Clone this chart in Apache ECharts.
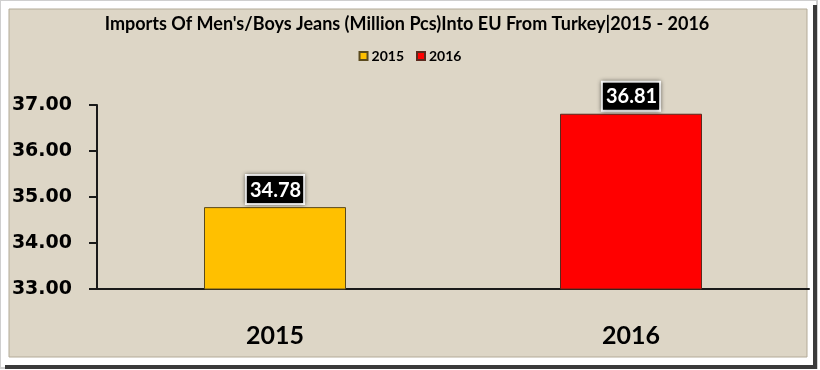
<!DOCTYPE html>
<html>
<head>
<meta charset="utf-8">
<script src="https://cdn.jsdelivr.net/npm/echarts@6/dist/echarts.min.js"></script>
<style>
html,body{margin:0;padding:0;background:#ffffff;}
#chart{width:820px;height:370px;}
</style>
</head>
<body>
<div id="chart"></div>
<script>
var categories = ['2015', '2016'];
var seriesNames = ['2015', '2016'];
var values2015 = [34.78, '-'];
var values2016 = ['-', 36.81];
var yTicks = { min: 33, max: 37, interval: 1 };

var chart = echarts.init(document.getElementById('chart'), null, { renderer: 'canvas' });
var calibri = 'Lato, "Open Sans", sans-serif';

var labelStyle = {
  show: true,
  position: 'top',
  distance: 4,
  formatter: function (p) { return p.value.toFixed(2); },
  color: '#ffffff',
  fontFamily: calibri,
  fontWeight: 'bold',
  fontSize: 20,
  lineHeight: 20,
  backgroundColor: '#000000',
  borderColor: '#ffffff',
  borderWidth: 2,
  padding: [4, 2, 3, 3],
  shadowBlur: 4,
  shadowColor: 'rgba(0,0,0,0.45)'
};

var option = {
  backgroundColor: '#ffffff',
  animation: false,
  graphic: [
    { type: 'rect', z: -20, shape: { x: 0, y: 0, width: 817, height: 368 }, style: { fill: '#ffffff', stroke: '#cfcfcf', lineWidth: 2 } },
    { type: 'rect', z: -19, shape: { x: 813, y: 5, width: 4, height: 364 }, style: { fill: '#3a3a3a' } },
    { type: 'rect', z: -19, shape: { x: 5, y: 365, width: 812, height: 4 }, style: { fill: '#3a3a3a' } },
    { type: 'rect', z: -18, shape: { x: 9, y: 9, width: 798, height: 348 }, style: { fill: '#ddd6c6', stroke: '#b3ab98', lineWidth: 1 } }
  ],
  title: {
    text: "Imports Of Men's/Boys Jeans (Million Pcs)Into EU From Turkey|2015 - 2016",
    left: 407,
    textAlign: 'center',
    top: 15,
    padding: 0,
    textStyle: { fontFamily: calibri, fontWeight: 'bold', fontSize: 18, color: '#000000' }
  },
  legend: {
    data: seriesNames,
    top: 49,
    left: 'center',
    padding: 0,
    itemWidth: 8,
    itemHeight: 8,
    itemGap: 12,
    icon: 'rect',
    textStyle: { fontFamily: calibri, fontWeight: 'bold', fontSize: 14, color: '#000000', padding: [0, 0, 0, -1] }
  },
  grid: { left: 97, right: 11, top: 105, bottom: 81, containLabel: false },
  xAxis: {
    type: 'category',
    data: categories,
    axisLine: { lineStyle: { color: '#1a1a1a', width: 2 } },
    axisTick: { show: false },
    axisLabel: { margin: 34, fontFamily: calibri, fontWeight: 'bold', fontSize: 25, color: '#000000' }
  },
  yAxis: {
    type: 'value',
    min: yTicks.min,
    max: yTicks.max,
    interval: yTicks.interval,
    splitLine: { show: false },
    axisLine: { show: true, lineStyle: { color: '#1a1a1a', width: 2 } },
    axisTick: { show: true, length: 8, lineStyle: { color: '#1a1a1a', width: 2 } },
    axisLabel: {
      margin: 25,
      fontFamily: '"DejaVu Sans", Verdana, sans-serif',
      fontWeight: 'bold',
      fontSize: 19,
      color: '#000000',
      formatter: function (v) { return v.toFixed(2); }
    }
  },
  series: [
    {
      name: seriesNames[0],
      type: 'bar',
      data: values2015,
      barWidth: 142,
      barGap: '-100%',
      itemStyle: { color: '#ffc000', borderColor: '#5a4a1e', borderWidth: 1 },
      label: labelStyle
    },
    {
      name: seriesNames[1],
      type: 'bar',
      data: values2016,
      barWidth: 142,
      barGap: '-100%',
      itemStyle: { color: '#ff0000', borderColor: '#5a2a1e', borderWidth: 1 },
      label: labelStyle
    }
  ]
};
chart.setOption(option);
</script>
</body>
</html>
